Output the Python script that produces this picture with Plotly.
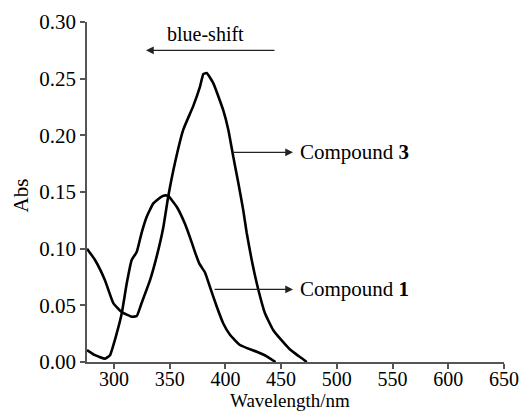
import plotly.graph_objects as go

# Compound 1 spectrum (nm, Abs)
wl_c1 = [275.8, 283, 292, 296.4, 302.4, 307, 311.4, 315.9, 320.4, 324.8, 329.3, 335.3,
         342.8, 346, 348.7, 356.3, 363.7, 368.2, 372.7, 376.5, 381.7, 386.2, 392.2, 398.1,
         404.1, 413.1, 428.1, 437, 445]
abs_c1 = [0.0105, 0.006, 0.003, 0.006, 0.025, 0.043, 0.069, 0.090, 0.097, 0.114, 0.128, 0.140,
          0.146, 0.147, 0.1465, 0.137, 0.122, 0.110, 0.097, 0.087, 0.079, 0.066, 0.049, 0.034,
          0.024, 0.015, 0.009, 0.005, 0.0]

# Compound 3 spectrum (nm, Abs)
wl_c3 = [275.8, 283, 292, 299.4, 307, 315.9, 320.4, 324.8, 332.3, 338.3, 344.3, 348.7,
         354.8, 362.2, 371.2, 377.2, 380.2, 383.2, 389.1, 398.1, 402.6, 407.1, 411.6, 416,
         419.1, 423.6, 429.5, 435.5, 443, 450.5, 458, 466, 473]
abs_c3 = [0.100, 0.090, 0.072, 0.052, 0.044, 0.040, 0.0405, 0.052, 0.072, 0.093, 0.119, 0.146,
          0.176, 0.205, 0.226, 0.243, 0.254, 0.255, 0.246, 0.222, 0.205, 0.181, 0.158, 0.134,
          0.114, 0.090, 0.064, 0.043, 0.028, 0.019, 0.011, 0.005, 0.0]

x_ticks = [300, 350, 400, 450, 500, 550, 600, 650]
y_ticks = [0.00, 0.05, 0.10, 0.15, 0.20, 0.25, 0.30]

FONT = "Liberation Serif"
AX = "#555555"

fig = go.Figure()
for wl, ab, name in [(wl_c1, abs_c1, "Compound 1"), (wl_c3, abs_c3, "Compound 3")]:
    fig.add_trace(go.Scatter(x=wl, y=ab, mode="lines", name=name,
                             line=dict(color="black", width=2.6, shape="spline", smoothing=0.4),
                             showlegend=False))

ann = []
# blue-shift arrow
ann.append(dict(x=328.7, y=0.275, ax=445.4, ay=0.275, xref="x", yref="y", axref="x", ayref="y",
                showarrow=True, arrowhead=2, arrowsize=1.2, arrowwidth=1.3, arrowcolor="#222", text=""))
ann.append(dict(x=381.7, y=0.289, xref="x", yref="y", text="blue-shift", showarrow=False,
                font=dict(family=FONT, size=20, color="black")))
# Compound 3 label arrow
ann.append(dict(x=460.7, y=0.185, ax=406, ay=0.185, xref="x", yref="y", axref="x", ayref="y",
                showarrow=True, arrowhead=2, arrowsize=1.2, arrowwidth=1.3, arrowcolor="#222", text=""))
ann.append(dict(x=465.5, y=0.185, xref="x", yref="y", xanchor="left", showarrow=False,
                text="Compound <b>3</b>", font=dict(family=FONT, size=21, color="black")))
# Compound 1 label arrow
ann.append(dict(x=460.7, y=0.064, ax=389, ay=0.064, xref="x", yref="y", axref="x", ayref="y",
                showarrow=True, arrowhead=2, arrowsize=1.2, arrowwidth=1.3, arrowcolor="#222", text=""))
ann.append(dict(x=465.5, y=0.064, xref="x", yref="y", xanchor="left", showarrow=False,
                text="Compound <b>1</b>", font=dict(family=FONT, size=21, color="black")))
# axis titles
ann.append(dict(x=-0.158, y=0.49, xref="paper", yref="paper", xanchor="center", yanchor="middle",
                text="Abs", textangle=-90, showarrow=False, font=dict(family=FONT, size=21, color="black")))
ann.append(dict(x=0.4875, y=-0.1147, xref="paper", yref="paper", xanchor="center", yanchor="middle",
                text="Wavelength/nm", showarrow=False, font=dict(family=FONT, size=19, color="black")))

fig.update_layout(
    width=519, height=414,
    margin=dict(l=87, r=15, t=22, b=52),
    paper_bgcolor="white", plot_bgcolor="white",
    font=dict(family=FONT, size=21, color="black"),
    annotations=ann,
)
fig.update_xaxes(range=[275.8, 650], tickvals=x_ticks, ticktext=[str(v) for v in x_ticks],
                 showline=True, linecolor=AX, linewidth=1.5, ticks="outside", ticklen=5,
                 tickcolor=AX, tickwidth=1.5, showgrid=False, zeroline=False, automargin=False,
                 ticklabeloverflow="allow", ticklabelstandoff=-7,
                 tickfont=dict(family=FONT, size=20, color="black"))
fig.update_yaxes(range=[0, 0.30], tickvals=y_ticks, ticktext=[f"{v:.2f}" for v in y_ticks],
                 showline=True, linecolor=AX, linewidth=1.5, ticks="outside", ticklen=5,
                 tickcolor=AX, tickwidth=1.5, showgrid=False, zeroline=False, automargin=False,
                 ticklabeloverflow="allow",
                 tickfont=dict(family=FONT, size=21, color="black"))

fig.write_html("out.html", config={"displayModeBar": False},
               post_script="document.body.style.margin='0';document.body.style.overflow='hidden';")
